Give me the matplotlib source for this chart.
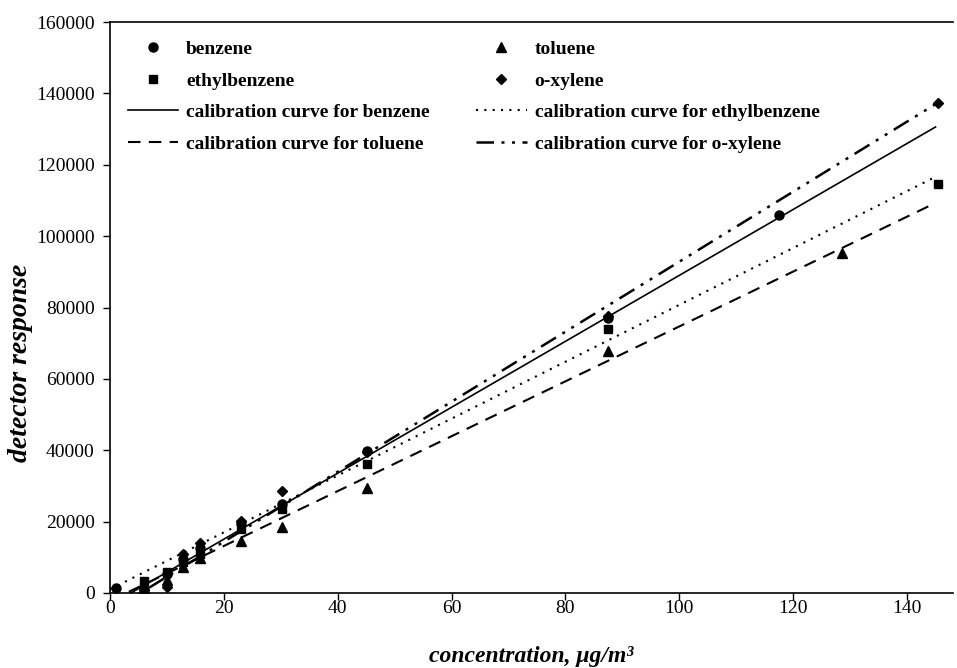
import numpy as np
import matplotlib
matplotlib.use("Agg")
import matplotlib.pyplot as plt

# measured points (concentration in ug/m3, detector response)
benzene_c = [1.0, 6.0, 10.0, 12.8, 15.8, 23.0, 30.2, 45.1, 87.5, 117.5]
benzene_y = [1500, 1200, 5200, 9500, 12600, 19500, 25000, 39800, 77000, 106000]

toluene_c = [6.0, 10.0, 12.8, 15.8, 23.0, 30.2, 45.1, 87.5, 128.6]
toluene_y = [1500, 3500, 7200, 9800, 14600, 18500, 29400, 67800, 95300]

ethylbenzene_c = [6.0, 10.0, 12.8, 15.8, 23.0, 30.2, 45.1, 87.5, 145.4]
ethylbenzene_y = [3300, 5800, 8800, 11000, 17800, 23500, 36100, 74000, 114600]

oxylene_c = [6.0, 10.0, 12.8, 15.8, 23.0, 30.2, 45.1, 87.5, 145.4]
oxylene_y = [800, 1800, 11000, 14000, 20300, 28500, 39500, 77500, 137300]

# calibration curves: slope, intercept
curve_range = [0, 145]
benzene_fit = (924, -3390)
toluene_fit = (769, -2200)
ethylbenzene_fit = (797, 1050)
oxylene_fit = (981, -5250)

x_ticks = [0, 20, 40, 60, 80, 100, 120, 140]
y_ticks = [0, 20000, 40000, 60000, 80000, 100000, 120000, 140000, 160000]

plt.rcParams['font.family'] = ['Liberation Serif', 'DejaVu Serif']

fig = plt.figure(figsize=(9.57, 6.68), dpi=100)
ax = fig.add_axes([0.115, 0.1123, 0.8804, 0.8547])

xs = np.array(curve_range, dtype=float)
ms = 6.5
h_b, = ax.plot(benzene_c, benzene_y, 'o', color='black', ms=ms, label='benzene')
h_t, = ax.plot(toluene_c, toluene_y, '^', color='black', ms=ms, label='toluene')
h_e, = ax.plot(ethylbenzene_c, ethylbenzene_y, 's', color='black', ms=ms - 0.5,
               label='ethylbenzene')
h_x, = ax.plot(oxylene_c, oxylene_y, 'D', color='black', ms=ms - 1, label='o-xylene')

c_b, = ax.plot(xs, benzene_fit[0] * xs + benzene_fit[1], color='black', lw=1.2,
               ls='-', label='calibration curve for benzene')
c_e, = ax.plot(xs, ethylbenzene_fit[0] * xs + ethylbenzene_fit[1], color='black',
               lw=1.5, ls=(0, (1, 3)), label='calibration curve for ethylbenzene')
c_t, = ax.plot(xs, toluene_fit[0] * xs + toluene_fit[1], color='black', lw=1.5,
               ls=(0, (6, 4)), label='calibration curve for toluene')
c_x, = ax.plot(xs, oxylene_fit[0] * xs + oxylene_fit[1], color='black', lw=1.8,
               ls=(0, (7, 3, 1.2, 3, 1.2, 3)), label='calibration curve for o-xylene')

ax.set_xlim(0, 148)
ax.set_ylim(0, 160000)
ax.set_xticks(x_ticks)
ax.set_yticks(y_ticks)
ax.tick_params(direction='out', length=5, width=1, labelsize=14, pad=6)
ax.tick_params(axis='x', pad=0)
for side in ['left', 'bottom', 'top']:
    ax.spines[side].set_linewidth(1.2)
ax.spines['right'].set_visible(False)

ax.set_xlabel('concentration, μg/m³', fontsize=17, fontstyle='italic',
              fontweight='bold', labelpad=21)
ax.set_ylabel('detector response', fontsize=20, fontstyle='italic',
              fontweight='bold')
ax.yaxis.set_label_coords(-0.092, 0.403)

handles = [h_b, h_e, c_b, c_t, h_t, h_x, c_e, c_x]
ax.legend(handles=handles, ncol=2, loc='upper left', bbox_to_anchor=(0.0, 0.9985),
          frameon=False, prop={'weight': 'bold', 'size': 14}, handlelength=2.6,
          handletextpad=0.4, columnspacing=2.4, labelspacing=0.72, borderpad=0.4)

fig.savefig('out.png', dpi=100)
